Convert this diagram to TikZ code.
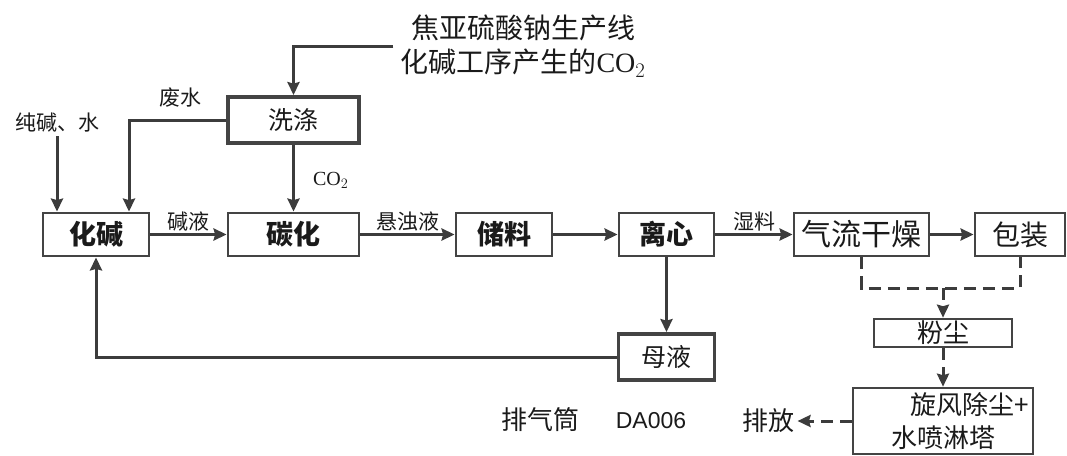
\documentclass[tikz,border=0pt]{standalone}
\usepackage{fontspec}
\setmainfont{Liberation Serif}
\newfontfamily\cjk{Noto Sans CJK SC}
\newfontfamily\dasans{Liberation Sans}
\usepackage{tikz}
\usetikzlibrary{arrows.meta}
\definecolor{boxgray}{HTML}{444444}
\definecolor{linegray}{HTML}{3C3C3C}
\definecolor{textblack}{HTML}{1A1A1A}

\begin{document}
\begin{tikzpicture}[x=1pt,y=-1pt]
	\useasboundingbox (0,0) rectangle (1067,455);
	\begin{scope}[every node/.style={rectangle, draw=boxgray, line width=2.8pt, inner sep=0pt,
			minimum height=43pt, text=textblack, font=\cjk\fontsize{27}{27}\selectfont\bfseries}]
		\node[minimum width=106pt] (HJ) at (96,234.5) {化碱};
		\node[minimum width=131pt] (TH) at (293.5,234.5) {碳化};
		\node[minimum width=96pt] (CL) at (504,234.5) {储料};
		\node[minimum width=95pt] (LX) at (666.5,234.5) {离心};
		\node[minimum width=135pt, font=\cjk\fontsize{30}{30}\selectfont] (GZ) at (861.5,234.5) {气流干燥};
		\node[minimum width=90pt, font=\cjk\fontsize{28}{28}\selectfont] (BZ) at (1020,234.5) {包装};
		\node[minimum width=131pt, minimum height=46pt, line width=3.8pt,
			font=\cjk\fontsize{25}{25}\selectfont] (XD) at (293.5,120) {洗涤};
		\node[minimum width=96pt, minimum height=46pt, line width=3.8pt,
			font=\cjk\fontsize{25}{25}\selectfont] (MY) at (666.5,357) {母液};
		\node[minimum width=138pt, minimum height=28pt, line width=2.6pt,
			font=\cjk\fontsize{26}{26}\selectfont] (FC) at (943,333) {粉尘};
		\node[minimum width=180pt, minimum height=66pt, line width=2.6pt] (XF) at (943,421) {};
	\end{scope}
	\begin{scope}[every node/.style={text=textblack, font=\cjk\fontsize{21}{21}\selectfont}]
		\node (JSW) at (57,123) {纯碱、水};
		\node (FS) at (180,98) {废水};
		\node[align=center, inner xsep=7pt, font=\cjk\fontsize{28}{34}\selectfont] (SRC) at (523,46)
			{焦亚硫酸钠生产线\\化碱工序产生的{\rmfamily CO$_2$}};
		\node[font=\cjk\fontsize{26}{26}\selectfont] (XF1) at (970,405) {旋风除尘+};
		\node[font=\cjk\fontsize{26}{26}\selectfont] (XF2) at (943,438) {水喷淋塔};
		\node[font=\cjk\fontsize{26}{26}\selectfont] (PF) at (768,421) {排放};
		\node[font=\cjk\fontsize{26}{26}\selectfont] (PQT) at (540,420) {排气筒};
		\node[font=\dasans\fontsize{23}{23}\selectfont] (DA) at (651,421) {DA006};
		\coordinate (DJ) at (943,288);
	\end{scope}
	\begin{scope}[>={Stealth[length=13pt,width=12pt,inset=1.5pt]},
			every edge/.style={draw=linegray, line width=3pt},
			pipe/.style={draw=linegray, line width=3pt},
			dust/.style={pipe, dash pattern=on 12pt off 7pt},
			lbl/.style={text=textblack, font=\cjk\fontsize{21}{21}\selectfont, inner sep=2pt}]
		\path [->] (HJ) edge node[above, lbl] {碱液} (TH);
		\path [->] (TH) edge node[above, lbl] {悬浊液} (CL);
		\path [->] (CL) edge (LX);
		\path [->] (LX) edge node[above, lbl] {湿料} (GZ);
		\path [->] (GZ) edge (BZ);
		\path [->] (XD) edge node[right, lbl, font=\fontsize{20}{20}\selectfont, xshift=16pt, yshift=-2pt] {CO$_2$} (TH);
		\path [->] (LX) edge (MY);
		\draw [pipe, ->] (SRC.west) -| (XD.north);
		\draw [pipe, ->] (XD.west) -| ([xshift=33pt]HJ.north);
		\draw [pipe, ->] (JSW.south) -- (JSW.south |- HJ.north);
		\draw [pipe, ->] (MY.west) -| (HJ.south);
		\draw [dust] (GZ.south) |- (DJ) -| (BZ.south);
		\draw [dust, ->] (DJ) -- (FC.north);
		\draw [dust, ->] (FC.south) -- (XF.north);
		\draw [dust, ->] (XF.west) -- (PF.east);
	\end{scope}
\end{tikzpicture}
\end{document}
